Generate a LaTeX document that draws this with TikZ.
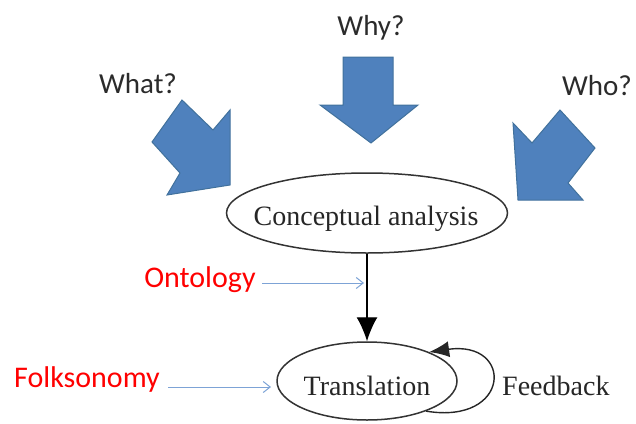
\documentclass[tikz,border=0pt]{standalone}
\usepackage{fontspec}
\setmainfont{Liberation Serif}
\newfontfamily\calib{Carlito}
\usetikzlibrary{shapes.geometric,arrows.meta}
\definecolor{arrfill}{HTML}{4F81BD}
\definecolor{arrdraw}{HTML}{41719C}
\definecolor{lblue}{HTML}{7DA3D6}
\definecolor{qtext}{HTML}{2B2B2B}
\begin{document}
\begin{tikzpicture}[x=1pt,y=-1pt,
  bigarrow/.style={fill=arrfill,draw=arrdraw,line width=1pt,line join=miter},
  qlabel/.style={font=\calib\fontsize{29}{34}\selectfont,text=qtext,inner sep=0pt,anchor=base},
  redlabel/.style={font=\calib\fontsize{30}{35}\selectfont,text=red,inner sep=0pt,anchor=base},
  serlabel/.style={font=\fontsize{28}{33}\selectfont,text=black!85,inner sep=0pt,anchor=base},
  ell/.style={ellipse,draw=black!80,line width=1.5pt,inner sep=0pt},
  bluearr/.style={draw=lblue,line width=1pt,-{Straight Barb[length=7pt,width=11pt]}},
  blackarr/.style={draw=black,line width=1.4pt,-{Latex[length=24pt,width=21pt]}},
  fbarr/.style={draw=black!85,line width=1.4pt,-{Latex[length=20pt,width=16pt]}}
]
\useasboundingbox (0,0) rectangle (636,423);

% big block arrows
\draw[bigarrow] (182,100) -- (213,130) -- (230,110) -- (230,185) -- (167,195) -- (180,173) -- (152,142) -- cycle;
\draw[bigarrow] (343,57) -- (393,57) -- (393,105) -- (418,105) -- (371,143) -- (320,105) -- (343,105) -- cycle;
\draw[bigarrow] (513,123) -- (532,143) -- (560,110) -- (595,148) -- (568,183) -- (583,200) -- (518,200) -- cycle;

% question labels
\node[qlabel] (why) at (371,35) {Why?};
\node[qlabel] (what) at (138,93) {What?};
\node[qlabel] (who) at (597,95) {Who?};

% ellipses
\node[ell,minimum width=281pt,minimum height=80pt] (ca) at (367,213) {};
\node[serlabel] (catext) at (366,225) {Conceptual analysis};
\node[ell,minimum width=180pt,minimum height=78pt] (tr) at (367,381) {};
\node[serlabel] (trtext) at (367,395) {Translation};
\node[serlabel,anchor=base west] (fb) at (502,395) {Feedback};

% connectors
\draw[blackarr] (ca.south) -- (tr.north);
\draw[fbarr] (tr.-27) .. controls +(85,14) and +(85,-12) .. (tr.25);

% red labels
\node[redlabel] (onto) at (200,287) {Ontology};
\node[redlabel] (folk) at (87,387) {Folksonomy};
\coordinate (ontostart) at (262,283);
\coordinate (ontoend) at (364,283);
\draw[bluearr] (ontostart) -- (ontoend);
\coordinate (folkstart) at (168,387);
\coordinate (folkend) at (271,387);
\draw[bluearr] (folkstart) -- (folkend);
\end{tikzpicture}
\end{document}
